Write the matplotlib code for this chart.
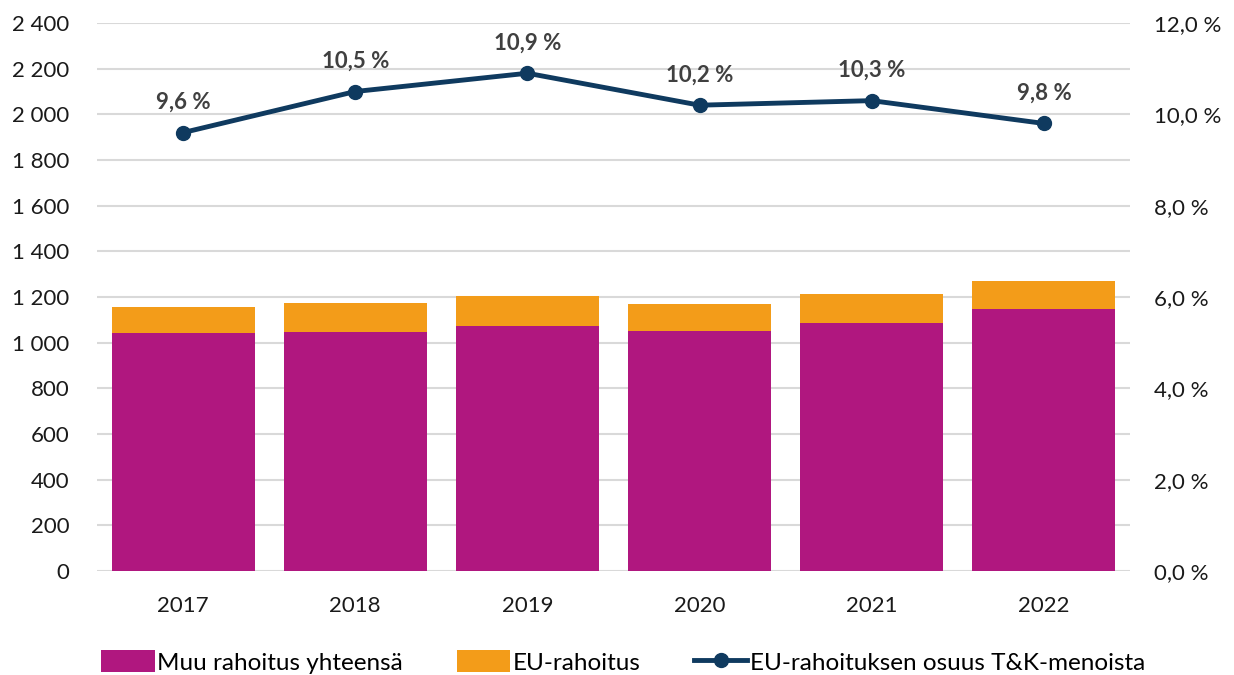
import matplotlib.pyplot as plt
from matplotlib.ticker import FuncFormatter

plt.rcParams['font.family'] = ['Lato', 'DejaVu Sans']

# Data
years = ['2017', '2018', '2019', '2020', '2021', '2022']
muu_rahoitus = [1042, 1047, 1073, 1051, 1087, 1146]
eu_rahoitus = [113, 126, 130, 119, 125, 126]
eu_osuus = [9.6, 10.5, 10.9, 10.2, 10.3, 9.8]
osuus_labels = ['9,6 %', '10,5 %', '10,9 %', '10,2 %', '10,3 %', '9,8 %']

magenta = '#b0177f'
orange = '#f39c19'
navy = '#0f3a5f'

fig = plt.figure(figsize=(12.34, 6.75), dpi=100)
ax = fig.add_axes([97 / 1234, 1 - 571 / 675, (1130 - 97) / 1234, (571 - 23) / 675])
ax2 = ax.twinx()

x = range(len(years))
b1 = ax.bar(x, muu_rahoitus, width=0.83, color=magenta, label='Muu rahoitus yhteensä', zorder=2)
b2 = ax.bar(x, eu_rahoitus, bottom=muu_rahoitus, width=0.83, color=orange, label='EU-rahoitus', zorder=2)

ln, = ax2.plot(x, eu_osuus, color=navy, linewidth=3.5, marker='o', markersize=10,
               label='EU-rahoituksen osuus T&K-menoista', zorder=3)
for xi, yi, lab in zip(x, eu_osuus, osuus_labels):
    ax2.annotate(lab, (xi, yi), xytext=(0, 14), textcoords='offset points',
                 ha='center', va='bottom', fontsize=16, fontweight='bold', color='#404040')

# Axes
ax.set_xlim(-0.5, len(years) - 0.5)
ax.set_ylim(0, 2400)
ax.set_yticks(range(0, 2401, 200))
ax.yaxis.set_major_formatter(FuncFormatter(lambda v, p: f'{int(v):,}'.replace(',', ' ')))
ax2.set_ylim(0, 12)
ax2.set_yticks(range(0, 13, 2))
ax2.yaxis.set_major_formatter(FuncFormatter(lambda v, p: f'{v:.1f} %'.replace('.', ',')))

ax.set_xticks(list(x))
ax.set_xticklabels(years)
ax.grid(axis='y', color='#d9d9d9', linewidth=1.5, zorder=0)
ax.set_axisbelow(True)
for a in (ax, ax2):
    for s in a.spines.values():
        s.set_visible(False)
    a.tick_params(length=0, labelsize=16, colors='#1a1a1a')
ax.tick_params(axis='y', pad=20)
ax.tick_params(axis='x', pad=18)
ax2.tick_params(axis='y', pad=17)

fig.legend(handles=[b1, b2, ln], loc='center', bbox_to_anchor=(0.505, 1 - 662 / 675), ncol=3,
           frameon=False, fontsize=17.5, handlelength=2.2, handleheight=1.0,
           handletextpad=0.1, columnspacing=2.2)

plt.savefig('out.png', dpi=100)
